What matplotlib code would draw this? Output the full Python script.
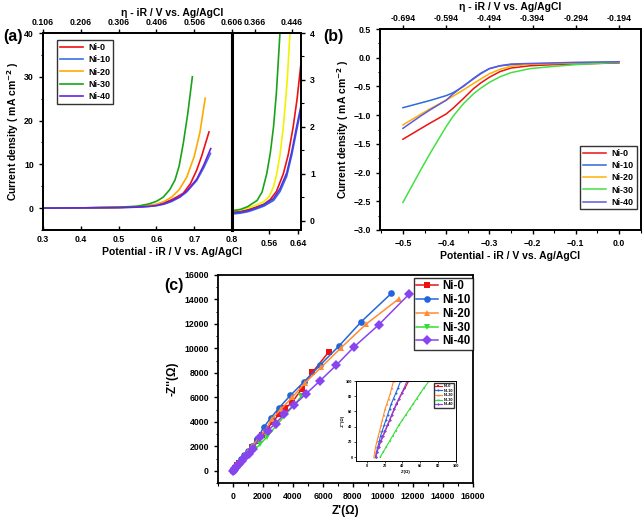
import numpy as np
import matplotlib
matplotlib.use("Agg")
import matplotlib.pyplot as plt
from matplotlib.ticker import AutoMinorLocator

plt.rcParams['font.family'] = ['Liberation Sans', 'DejaVu Sans']
plt.rcParams['font.weight'] = 'bold'
plt.rcParams['axes.labelweight'] = 'bold'
plt.rcParams['axes.linewidth'] = 1.3

labels = ["Ni-0", "Ni-10", "Ni-20", "Ni-30", "Ni-40"]

# ---- (a) OER polarisation, main window
a_x = {
    "Ni-0":  [0.30, 0.40, 0.50, 0.55, 0.58, 0.60, 0.62, 0.64, 0.655, 0.671, 0.69, 0.7066, 0.72, 0.739],
    "Ni-10": [0.30, 0.40, 0.50, 0.55, 0.58, 0.60, 0.62, 0.64, 0.662, 0.68, 0.7066, 0.725, 0.743],
    "Ni-20": [0.30, 0.40, 0.50, 0.55, 0.58, 0.60, 0.62, 0.64, 0.66, 0.68, 0.70, 0.715, 0.729],
    "Ni-30": [0.30, 0.40, 0.50, 0.55, 0.58, 0.60, 0.618, 0.635, 0.649, 0.66, 0.671, 0.683, 0.695],
    "Ni-40": [0.30, 0.40, 0.50, 0.55, 0.58, 0.60, 0.62, 0.64, 0.662, 0.68, 0.7066, 0.725, 0.7436],
}
a_y = {
    "Ni-0":  [0.0, 0.05, 0.15, 0.3, 0.5, 0.8, 1.2, 1.9, 2.6, 3.4, 5.6, 8.7, 12.0, 17.4],
    "Ni-10": [0.0, 0.05, 0.12, 0.22, 0.38, 0.55, 0.9, 1.5, 2.5, 3.7, 6.3, 9.2, 12.5],
    "Ni-20": [0.0, 0.05, 0.15, 0.35, 0.6, 0.9, 1.5, 2.5, 4.2, 7.05, 11.8, 17.3, 25.1],
    "Ni-30": [0.0, 0.05, 0.2, 0.45, 0.95, 1.55, 2.5, 4.2, 6.4, 9.6, 14.8, 21.7, 30.0],
    "Ni-40": [0.0, 0.05, 0.12, 0.23, 0.4, 0.6, 1.0, 1.7, 2.6, 3.9, 6.6, 9.8, 13.6],
}
# ---- (a) zoomed window
az_x = {
    "Ni-0":  [0.456, 0.48, 0.50, 0.52, 0.545, 0.563, 0.58, 0.5995, 0.613, 0.627, 0.638, 0.648],
    "Ni-10": [0.456, 0.48, 0.50, 0.52, 0.545, 0.572, 0.59, 0.609, 0.623, 0.636, 0.648],
    "Ni-20": [0.456, 0.48, 0.50, 0.52, 0.544, 0.56, 0.572, 0.581, 0.59, 0.5995, 0.61, 0.618],
    "Ni-30": [0.456, 0.48, 0.50, 0.526, 0.54, 0.553, 0.563, 0.572, 0.58, 0.59],
    "Ni-40": [0.456, 0.48, 0.50, 0.52, 0.545, 0.572, 0.59, 0.609, 0.623, 0.636, 0.648],
}
az_y = {
    "Ni-0":  [0.18, 0.2, 0.23, 0.28, 0.35, 0.45, 0.62, 1.0, 1.4, 2.0, 2.6, 3.3],
    "Ni-10": [0.14, 0.16, 0.19, 0.24, 0.31, 0.43, 0.62, 0.95, 1.4, 1.9, 2.35],
    "Ni-20": [0.21, 0.23, 0.27, 0.32, 0.40, 0.52, 0.72, 1.0, 1.4, 2.0, 2.95, 4.0],
    "Ni-30": [0.21, 0.24, 0.3, 0.43, 0.61, 1.0, 1.44, 2.0, 2.72, 4.0],
    "Ni-40": [0.16, 0.18, 0.21, 0.26, 0.34, 0.47, 0.68, 1.02, 1.47, 1.98, 2.42],
}

# ---- (b) HER polarisation
b_x = [-0.50, -0.46, -0.4375, -0.40, -0.384, -0.36, -0.337, -0.32, -0.30, -0.275, -0.25, -0.206, -0.15, -0.10, -0.05, 0.0]
b_y = {
    "Ni-0":  [-1.42, -1.24, -1.14, -0.98, -0.88, -0.71, -0.54, -0.44, -0.34, -0.24, -0.18, -0.14, -0.12, -0.11, -0.10, -0.09],
    "Ni-10": [-0.87, -0.79, -0.745, -0.66, -0.61, -0.50, -0.36, -0.27, -0.19, -0.14, -0.12, -0.11, -0.10, -0.10, -0.09, -0.08],
    "Ni-20": [-1.17, -0.99, -0.89, -0.74, -0.67, -0.56, -0.45, -0.37, -0.28, -0.20, -0.15, -0.11, -0.10, -0.09, -0.08, -0.07],
    "Ni-30": [-2.52, -1.97, -1.67, -1.20, -1.02, -0.80, -0.63, -0.53, -0.43, -0.33, -0.26, -0.19, -0.15, -0.12, -0.10, -0.08],
    "Ni-40": [-1.23, -1.02, -0.91, -0.74, -0.63, -0.49, -0.37, -0.28, -0.19, -0.14, -0.11, -0.10, -0.09, -0.08, -0.075, -0.07],
}

# ---- (c) Nyquist plots
c_x = {
    "Ni-0":  [0, 60, 150, 280, 420, 600, 800, 1050, 1300, 1600, 1950, 2300, 2650, 3100, 3500, 3960, 4600, 5290, 6400],
    "Ni-10": [0, 50, 130, 240, 380, 560, 760, 1000, 1280, 1620, 2040, 2510, 3070, 3820, 4710, 5820, 7070, 8560, 10560],
    "Ni-20": [0, 50, 130, 240, 380, 560, 760, 1000, 1300, 1650, 2100, 2600, 3220, 3960, 4820, 5890, 7220, 8890, 11040],
    "Ni-30": [0, 80, 200, 350, 520, 720, 950, 1200, 1480, 1800, 2250, 2840, 3400, 4560],
    "Ni-40": [0, 60, 150, 270, 420, 600, 820, 1050, 1350, 1780, 2310, 2840, 3400, 4090, 4890, 5820, 6890, 8070, 9710, 11730],
}
c_y = {
    "Ni-0":  [0, 100, 250, 450, 650, 900, 1200, 1550, 1950, 2400, 2900, 3450, 4000, 4650, 5100, 5630, 6700, 8030, 9740],
    "Ni-10": [0, 90, 230, 420, 650, 930, 1250, 1620, 2050, 2600, 3540, 4300, 5140, 6150, 7240, 8650, 10200, 12190, 14500],
    "Ni-20": [0, 90, 230, 420, 650, 930, 1250, 1600, 2050, 2550, 3200, 4240, 5060, 6010, 7210, 8460, 10070, 12000, 14040],
    "Ni-30": [0, 100, 250, 430, 640, 880, 1150, 1450, 1780, 2150, 2750, 3620, 4440, 6070],
    "Ni-40": [0, 90, 220, 380, 580, 820, 1100, 1400, 1780, 2750, 3270, 3860, 4600, 5390, 6310, 7370, 8630, 10120, 11920, 14420],
}
# ---- (c) inset, high-frequency region
ins_y = [0, 7, 14, 21, 28, 35, 42, 49, 56, 63, 70, 77, 84, 91, 100]
ins_x = {
    "Ni-0":  [10, 11.5, 13.5, 16, 18.5, 21, 23.5, 26, 28.5, 31, 33.5, 36.5, 39.5, 43, 47],
    "Ni-10": [10, 11, 12.5, 14, 15.5, 17.5, 19.5, 21.5, 23.5, 25.5, 27.5, 30, 32.5, 35, 38],
    "Ni-20": [8, 9, 10, 11.5, 13, 14.5, 16, 17.5, 19, 20.5, 22.5, 24.5, 26.5, 28, 30],
    "Ni-30": [15, 18.5, 22, 25.5, 29, 32.5, 36, 40, 44, 48, 52, 56, 60, 64, 70],
    "Ni-40": [10, 11.5, 13.5, 15.5, 18, 20.5, 23, 25.5, 28, 30.5, 33, 36, 39, 42, 45],
}

col_a = {"Ni-0": "#ee1111", "Ni-10": "#3b6fe6", "Ni-20": "#ffaa00", "Ni-30": "#1aa31a", "Ni-40": "#6a22dd"}
col_az = {"Ni-0": "#ee1111", "Ni-10": "#3b5fe6", "Ni-20": "#f2f200", "Ni-30": "#1aa31a", "Ni-40": "#4a3be0"}
col_b = {"Ni-0": "#ee1111", "Ni-10": "#2f6ad8", "Ni-20": "#ffb000", "Ni-30": "#44e044", "Ni-40": "#5a5ae0"}
col_c = {"Ni-0": "#ee1111", "Ni-10": "#2266dd", "Ni-20": "#ff8c33", "Ni-30": "#33dd33", "Ni-40": "#8844ee"}
markers = {"Ni-0": "s", "Ni-10": "o", "Ni-20": "^", "Ni-30": "v", "Ni-40": "D"}

TS = 6.3
LS = 7.5

fig = plt.figure(figsize=(6.43, 5.2), dpi=100)


def style(ax):
    ax.tick_params(labelsize=TS, length=3, width=1, direction='out')
    ax.tick_params(which='minor', length=1.8, width=0.8, direction='out')
    for t in ax.get_xticklabels() + ax.get_yticklabels():
        t.set_fontweight('bold')


# panel (a), main
ax1 = fig.add_axes([0.0669, 0.5577, 0.2940, 0.3788])
for k in labels:
    ax1.plot(a_x[k], a_y[k], color=col_a[k], lw=1.2, label=k)
ax1.set_xlim(0.3, 0.8)
ax1.set_ylim(-5, 40)
ax1.set_xticks([0.3, 0.4, 0.5, 0.6, 0.7, 0.8])
ax1.set_yticks([0, 10, 20, 30, 40])
ax1.yaxis.set_minor_locator(AutoMinorLocator(2))
ax1.set_ylabel("Current density ( mA cm$^{\\mathbf{-2}}$ )", fontsize=LS, labelpad=2)
ax1.set_xlabel("Potential - iR / V vs. Ag/AgCl", fontsize=LS, labelpad=2, x=0.68)
style(ax1)
ax1.tick_params(axis='x', direction='in')
ax1t = ax1.twiny()
ax1t.set_xlim(0.3 - 0.194, 0.8 - 0.194)
ax1t.set_xticks([0.106, 0.206, 0.306, 0.406, 0.506, 0.606])
ax1t.set_xticklabels(["0.106", "0.206", "0.306", "0.406", "0.506", "0.606"])
style(ax1t)
ax1t.tick_params(axis='x', pad=1.5)
ax1.legend(loc='upper left', bbox_to_anchor=(0.05, 0.985), frameon=True,
           fancybox=False, edgecolor='black', handlelength=2.6, borderpad=0.3,
           labelspacing=0.35, handletextpad=0.6, prop={'weight': 'bold', 'size': 6.5})
ax1.spines['right'].set_linewidth(2.2)

# panel (a), zoom
ax2 = fig.add_axes([0.3609, 0.5577, 0.1073, 0.3788])
for k in labels:
    ax2.plot(az_x[k], az_y[k], color=col_az[k], lw=1.2)
ax2.set_xlim(0.456, 0.649)
ax2.set_ylim(-0.2, 4)
ax2.set_xticks([0.56, 0.64])
ax2.set_xticklabels(["0.56", "0.64"])
ax2.yaxis.tick_right()
ax2.set_yticks([0, 1, 2, 3, 4])
ax2.yaxis.set_minor_locator(AutoMinorLocator(2))
style(ax2)
ax2.spines['left'].set_linewidth(2.2)
ax2t = ax2.twiny()
ax2t.set_xlim(0.3165, 0.4664)
ax2t.set_xticks([0.366, 0.446])
ax2t.set_xticklabels(["0.366", "0.446"])
style(ax2t)
ax2t.tick_params(axis='x', pad=1.5)
fig.text(0.268, 0.985, "η - iR / V vs. Ag/AgCl", ha='center', va='top', fontsize=LS, fontweight='bold')
fig.text(0.005, 0.945, "(a)", fontsize=11.5, fontweight='bold', va='top')

# panel (b)
ax3 = fig.add_axes([0.591, 0.5577, 0.406, 0.3865])
for k in labels:
    ax3.plot(b_x, b_y[k], color=col_b[k], lw=1.1, label=k)
ax3.set_xlim(-0.553, 0.051)
ax3.set_ylim(-3.0, 0.5)
ax3.set_xticks([-0.5, -0.4, -0.3, -0.2, -0.1, 0.0])
ax3.set_yticks(np.arange(-3.0, 0.51, 0.5))
ax3.yaxis.set_minor_locator(AutoMinorLocator(2))
ax3.xaxis.set_minor_locator(AutoMinorLocator(2))
ax3.set_ylabel("Current density ( mA cm$^{\\mathbf{-2}}$ )", fontsize=LS, labelpad=2)
ax3.set_xlabel("Potential - iR / V vs. Ag/AgCl", fontsize=LS, labelpad=2)
style(ax3)
ax3t = ax3.twiny()
ax3t.set_xlim(-0.553 - 0.194, 0.051 - 0.194)
ax3t.set_xticks([-0.694, -0.594, -0.494, -0.394, -0.294, -0.194])
ax3t.set_xticklabels(["-0.694", "-0.594", "-0.494", "-0.394", "-0.294", "-0.194"])
ax3t.set_xlabel("η - iR / V vs. Ag/AgCl", fontsize=LS, labelpad=3)
style(ax3t)
ax3t.tick_params(axis='x', pad=1.5)
ax3.legend(loc='lower right', bbox_to_anchor=(1.0, 0.08), frameon=True, fancybox=False,
           edgecolor='black', handlelength=2.6, borderpad=0.3, labelspacing=0.35,
           handletextpad=0.6, prop={'weight': 'bold', 'size': 6.5})
fig.text(0.502, 0.945, "(b)", fontsize=11.5, fontweight='bold', va='top')

# panel (c)
ax4 = fig.add_axes([0.339, 0.0712, 0.3966, 0.40])
for k in labels:
    ax4.plot(c_x[k], c_y[k], color=col_c[k], lw=1.1, marker=markers[k], ms=4.8,
             markeredgewidth=0, label=k)
ax4.set_xlim(-1000, 16000)
ax4.set_ylim(-1000, 16000)
ax4.set_xticks(np.arange(0, 16001, 2000))
ax4.set_yticks(np.arange(0, 16001, 2000))
ax4.xaxis.set_minor_locator(AutoMinorLocator(2))
ax4.yaxis.set_minor_locator(AutoMinorLocator(2))
ax4.set_xlabel("Z'(Ω)", fontsize=8.5, labelpad=3)
ax4.set_ylabel("-Z''(Ω)", fontsize=8.5, labelpad=4)
style(ax4)
ax4.legend(loc='upper right', bbox_to_anchor=(1.0, 0.985), borderaxespad=0,
           frameon=True, fancybox=False, edgecolor='black', handlelength=1.9,
           borderpad=0.2, labelspacing=0.15, handletextpad=0.35,
           prop={'weight': 'bold', 'size': 8.3})
fig.text(0.255, 0.465, "(c)", fontsize=11.5, fontweight='bold', va='top')

# inset
ax5 = fig.add_axes([0.5537, 0.1135, 0.1555, 0.1538])
for k in labels:
    ax5.plot(ins_x[k], ins_y, color=col_c[k], lw=0.8, marker=markers[k], ms=1.5,
             markeredgewidth=0, label=k)
ax5.set_xlim(-12, 100)
ax5.set_ylim(-5, 100)
ax5.set_xticks(np.arange(0, 101, 20))
ax5.set_yticks(np.arange(0, 101, 20))
ax5.tick_params(labelsize=2.8, length=1.5, width=0.5, pad=1)
ax5.set_xlabel("Z'(Ω)", fontsize=3, labelpad=1)
ax5.set_ylabel("-Z''(Ω)", fontsize=3, labelpad=1)
for s in ax5.spines.values():
    s.set_linewidth(0.7)
ax5.legend(loc='upper right', frameon=True, fancybox=False, edgecolor='black',
           handlelength=1.8, borderpad=0.3, labelspacing=0.15, handletextpad=0.4,
           prop={'size': 2.8})

fig.savefig("out.png", dpi=100)
